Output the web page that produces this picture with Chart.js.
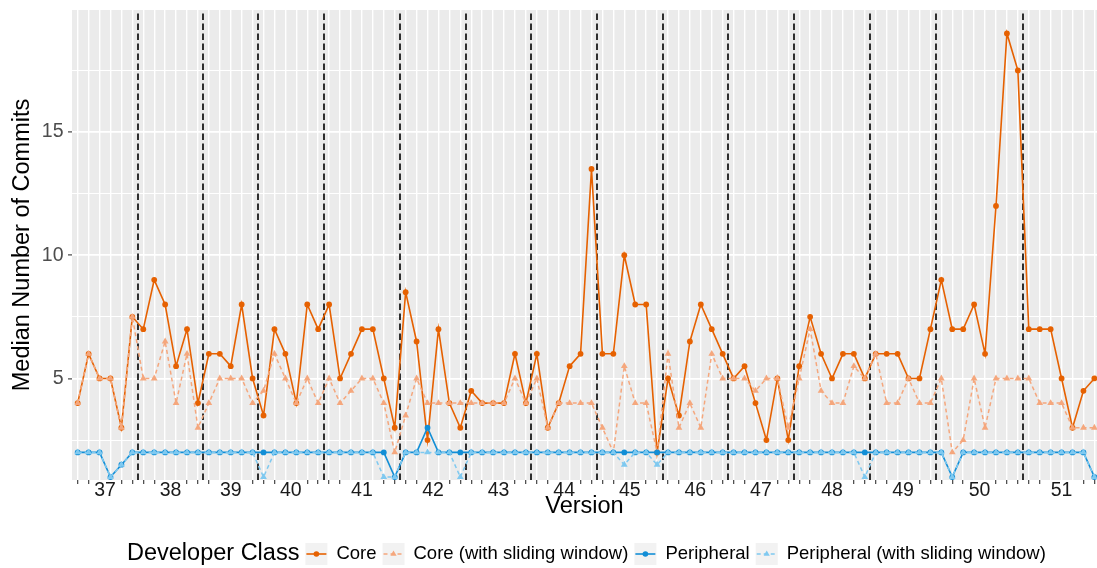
<!DOCTYPE html>
<html>
<head>
<meta charset="utf-8">
<script src="https://cdn.jsdelivr.net/npm/chart.js@4.4.1/dist/chart.umd.min.js"></script>
<style>
  html, body { margin: 0; padding: 0; background: #fff; }
  #wrap { width: 1097px; height: 568px; }
</style>
</head>
<body>
<div id="wrap"><canvas id="commits-chart" width="1097" height="568"></canvas></div>
<script>
// versions and how many weekly points each one has
const versions = ["37", "38", "39", "40", "41", "42", "43", "44", "45", "46", "47", "48", "49", "50", "51"];
const weeksPerVersion = [6, 6, 5, 6, 7, 6, 6, 6, 6, 6, 6, 7, 6, 8, 7];

// median commits per week, one value per point
const core = [
  4, 6, 5, 5, 3, 7.5,
  7, 9, 8, 5.5, 7, 4,
  6, 6, 5.5, 8, 5,
  3.5, 7, 6, 4, 8, 7,
  8, 5, 6, 7, 7, 5, 3,
  8.5, 6.5, 2.5, 7, 4, 3,
  4.5, 4, 4, 4, 6, 4,
  6, 3, 4, 5.5, 6, 13.5,
  6, 6, 10, 8, 8, 2,
  5, 3.5, 6.5, 8, 7, 6,
  5, 5.5, 4, 2.5, 5, 2.5,
  5.5, 7.5, 6, 5, 6, 6, 5,
  6, 6, 6, 5, 5, 7,
  9, 7, 7, 8, 6, 12, 19, 17.5,
  7, 7, 7, 5, 3, 4.5, 5
];
const coreSliding = [
  4, 6, 5, 5, 3, 7.5,
  5, 5, 6.5, 4, 6, 3,
  4, 5, 5, 5, 4,
  4.5, 6, 5, 4, 5, 4,
  5, 4, 4.5, 5, 5, 4, 2,
  3.5, 5, 4, 4, 4, 4,
  4, 4, 4, 4, 5, 4,
  5, 3, 4, 4, 4, 4,
  3, 2, 5.5, 4, 4, 2,
  6, 3, 4, 3, 6, 5,
  5, 5, 4.5, 5, 5, 3,
  5, 7, 4.5, 4, 4, 5.5, 5,
  6, 4, 4, 5, 4, 4,
  5, 2, 2.5, 5, 3, 5, 5, 5,
  5, 4, 4, 4, 3, 3, 3
];
const peripheral = [
  2, 2, 2, 1, 1.5, 2,
  2, 2, 2, 2, 2, 2,
  2, 2, 2, 2, 2,
  2, 2, 2, 2, 2, 2,
  2, 2, 2, 2, 2, 2, 1,
  2, 2, 3, 2, 2, 2,
  2, 2, 2, 2, 2, 2,
  2, 2, 2, 2, 2, 2,
  2, 2, 2, 2, 2, 2,
  2, 2, 2, 2, 2, 2,
  2, 2, 2, 2, 2, 2,
  2, 2, 2, 2, 2, 2, 2,
  2, 2, 2, 2, 2, 2,
  2, 1, 2, 2, 2, 2, 2, 2,
  2, 2, 2, 2, 2, 2, 1
];
const peripheralSliding = [
  2, 2, 2, 1, 1.5, 2,
  2, 2, 2, 2, 2, 2,
  2, 2, 2, 2, 2,
  1, 2, 2, 2, 2, 2,
  2, 2, 2, 2, 2, 1, 1,
  2, 2, 2, 2, 2, 1,
  2, 2, 2, 2, 2, 2,
  2, 2, 2, 2, 2, 2,
  2, 2, 1.5, 2, 2, 1.5,
  2, 2, 2, 2, 2, 2,
  2, 2, 2, 2, 2, 2,
  2, 2, 2, 2, 2, 2, 1,
  2, 2, 2, 2, 2, 2,
  2, 1, 2, 2, 2, 2, 2, 2,
  2, 2, 2, 2, 2, 2, 1
];

const yTicks = [2.5, 5, 7.5, 10, 12.5, 15, 17.5];

const COLORS = {
  core: "#e66101",
  coreSliding: "#f5a77d",
  peripheral: "#128ed6",
  peripheralSliding: "#7fc9f0"
};

// where each version starts, its label position and the boundary lines
const versionStart = [];
weeksPerVersion.reduce((acc, n) => { versionStart.push(acc); return acc + n; }, 0);
const versionMid = versionStart.map((s, k) => s + (weeksPerVersion[k] - 1) / 2);
const boundaries = versionStart.slice(1).map(s => s - 0.5);
const nWeeks = core.length;

const toPoints = arr => arr.map((v, i) => ({ x: i, y: v }));

const panelPlugin = {
  id: "panel",
  beforeDraw(chart) {
    const { ctx, chartArea: a } = chart;
    ctx.save();
    ctx.fillStyle = "#ebebeb";
    ctx.fillRect(a.left, a.top, a.right - a.left, a.bottom - a.top);
    ctx.restore();
  },
  beforeDatasetsDraw(chart) {
    const { ctx, chartArea: a, scales } = chart;
    ctx.save();
    ctx.strokeStyle = "#000";
    ctx.lineWidth = 1.6;
    ctx.setLineDash([6.5, 3.5]);
    boundaries.forEach(b => {
      const x = Math.round(scales.x.getPixelForValue(b));
      ctx.beginPath();
      ctx.moveTo(x, a.bottom);
      ctx.lineTo(x, a.top);
      ctx.stroke();
    });
    ctx.restore();
  },
  afterDraw(chart) {
    const ctx = chart.ctx;
    const cy = 554;
    ctx.save();
    ctx.textBaseline = "middle";
    ctx.fillStyle = "#000";
    ctx.font = "23.5px 'Liberation Sans', Arial, sans-serif";
    let x = 127;
    ctx.fillText("Developer Class", x, cy);
    x += ctx.measureText("Developer Class").width;
    ctx.font = "18.5px 'Liberation Sans', Arial, sans-serif";
    chart.data.datasets.slice().reverse().forEach(ds => {
      const bx = x + 6;
      ctx.fillStyle = "#f2f2f2";
      ctx.fillRect(bx, cy - 11, 22, 22);
      ctx.strokeStyle = ds.borderColor;
      ctx.lineWidth = 1.6;
      ctx.setLineDash(ds.borderDash || []);
      ctx.beginPath();
      ctx.moveTo(bx + 1, cy);
      ctx.lineTo(bx + 21, cy);
      ctx.stroke();
      ctx.setLineDash([]);
      ctx.fillStyle = ds.borderColor;
      ctx.beginPath();
      if (ds.pointStyle === "triangle") {
        ctx.moveTo(bx + 11, cy - 3.6);
        ctx.lineTo(bx + 14.1, cy + 1.8);
        ctx.lineTo(bx + 7.9, cy + 1.8);
        ctx.closePath();
      } else {
        ctx.arc(bx + 11, cy, 2.8, 0, Math.PI * 2);
      }
      ctx.fill();
      ctx.fillStyle = "#000";
      const tx = bx + 31;
      ctx.fillText(ds.label, tx, cy);
      x = tx + ctx.measureText(ds.label).width;
    });
    ctx.restore();
  }
};

const baseFont = "'Liberation Sans', Arial, sans-serif";

function series(label, data, color, dashed, shape, order) {
  return {
    label: label,
    data: toPoints(data),
    borderColor: color,
    backgroundColor: color,
    borderWidth: dashed ? 1.5 : 1.6,
    borderDash: dashed ? [4, 3] : [],
    pointStyle: shape,
    pointRadius: shape === "triangle" ? 3.9 : 2.9,
    pointBorderWidth: 0,
    pointBackgroundColor: color,
    tension: 0,
    order: order
  };
}

const ctx = document.getElementById("commits-chart").getContext("2d");
new Chart(ctx, {
  type: "line",
  data: {
    datasets: [
      series("Peripheral (with sliding window)", peripheralSliding, COLORS.peripheralSliding, true, "triangle", 1),
      series("Peripheral", peripheral, COLORS.peripheral, false, "circle", 2),
      series("Core (with sliding window)", coreSliding, COLORS.coreSliding, true, "triangle", 3),
      series("Core", core, COLORS.core, false, "circle", 4)
    ]
  },
  options: {
    responsive: false,
    animation: false,
    devicePixelRatio: 1,
    layout: { autoPadding: false, padding: { top: 10, right: 0, bottom: 0, left: 0 } },
    plugins: {
      legend: { display: false },
      tooltip: { enabled: false }
    },
    scales: {
      x: {
        type: "linear",
        min: -0.52,
        max: nWeeks - 1 + 0.24,
        border: { display: false },
        afterBuildTicks(scale) {
          const vals = [];
          for (let i = 0; i < nWeeks; i++) vals.push(i);
          versionMid.forEach(m => { if (!Number.isInteger(m)) vals.push(m); });
          vals.sort((a, b) => a - b);
          scale.ticks = vals.map(v => ({ value: v }));
        },
        afterFit(scale) {
          scale.height = 88;
          scale.paddingLeft = 0;
          scale.paddingRight = 0;
        },
        grid: {
          color: c => (c.tick && Number.isInteger(c.tick.value) ? "#ffffff" : "rgba(0,0,0,0)"),
          lineWidth: 1.4,
          drawTicks: true,
          tickLength: 4,
          tickWidth: 1.1,
          tickColor: c => {
            const v = c.tick ? c.tick.value : NaN;
            if (!Number.isInteger(v)) return "rgba(0,0,0,0)";
            if (versionMid.some(m => Math.abs(m - v) <= 1)) return "rgba(0,0,0,0)";
            return "#333333";
          }
        },
        ticks: {
          autoSkip: false,
          maxRotation: 0,
          minRotation: 0,
          padding: -5,
          color: "#1a1a1a",
          font: { family: baseFont, size: 19.5 },
          callback: v => {
            const k = versionMid.indexOf(v);
            return k >= 0 ? versions[k] : "";
          }
        },
        title: {
          display: true,
          text: "Version",
          color: "#000",
          font: { family: baseFont, size: 23.5 },
          padding: { top: 0, bottom: 47 }
        }
      },
      y: {
        type: "linear",
        min: 0.88,
        max: 19.95,
        border: { display: false },
        afterBuildTicks(scale) {
          scale.ticks = yTicks.map(v => ({ value: v }));
        },
        afterFit(scale) {
          scale.width = 72;
          scale.paddingTop = 0;
          scale.paddingBottom = 0;
        },
        grid: {
          color: "#ffffff",
          lineWidth: c => (c.tick && c.tick.value % 5 === 0 ? 1.8 : 1.0),
          drawTicks: true,
          tickLength: 4,
          tickWidth: 1.1,
          tickColor: c => (c.tick && c.tick.value % 5 === 0 ? "#333333" : "rgba(0,0,0,0)")
        },
        ticks: {
          autoSkip: false,
          padding: 4.5,
          color: "#4d4d4d",
          font: { family: baseFont, size: 19.5 },
          callback: v => (v % 5 === 0 ? String(v) : "")
        },
        title: {
          display: true,
          text: "Median Number of Commits",
          color: "#000",
          font: { family: baseFont, size: 23.5 },
          padding: { top: 8.5, bottom: 0 }
        }
      }
    }
  },
  plugins: [panelPlugin]
});
</script>
</body>
</html>
